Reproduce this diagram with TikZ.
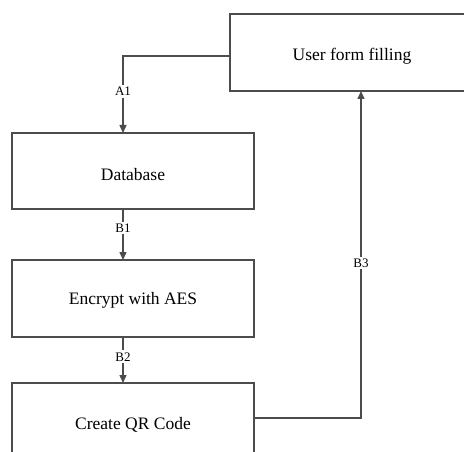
\documentclass[tikz,border=0pt]{standalone}
\usepackage{fontspec}
\setmainfont{Liberation Serif}
\usetikzlibrary{arrows.meta}
\begin{document}
\begin{tikzpicture}[x=1pt,y=-1pt,
  box/.style={draw=black!70,line width=1.4pt,fill=white},
  link/.style={draw=black!70,line width=1.4pt},
  arr/.style={link,-{Triangle[length=8pt,width=7pt]}},
  lbl/.style={fill=white,inner sep=2pt,font=\fontsize{13}{15}\selectfont},
  txt/.style={font=\fontsize{17.5}{20}\selectfont}]
\useasboundingbox (0,0) rectangle (464,452);
\clip (0,0) rectangle (464,452);
% process boxes
\path[box] (230,14) rectangle (474,91);
\node[txt] (user) at (352,56) {User form filling};
\path[box] (12,133) rectangle (254,209);
\node[txt] (db) at (133,175) {Database};
\path[box] (12,260) rectangle (254,337);
\node[txt] (aes) at (133,300) {Encrypt with AES};
\path[box] (12,383) rectangle (254,470);
\node[txt] (qr) at (133,425) {Create QR Code};
% attachment points on the box edges
\coordinate (userL) at (230,56);
\coordinate (userB) at (361,91);
\coordinate (dbT) at (123,133);
\coordinate (dbB) at (123,209);
\coordinate (aesT) at (123,260);
\coordinate (aesB) at (123,337);
\coordinate (qrT) at (123,383);
\coordinate (qrR) at (254,418);
% connectors
\draw[arr] (userL) -| node[lbl,pos=0.73] {A1} (dbT);
\draw[arr] (dbB) -- node[lbl,pos=0.37] {B1} (aesT);
\draw[arr] (aesB) -- node[lbl,pos=0.43] {B2} (qrT);
\draw[arr] (qrR) -| node[lbl,pos=0.737] {B3} (userB);
\end{tikzpicture}
\end{document}
